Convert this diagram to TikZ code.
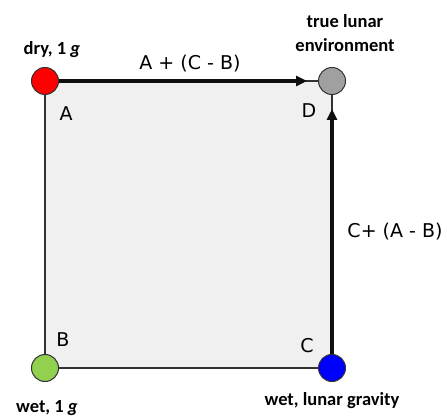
\documentclass[tikz,border=0pt]{standalone}
\usepackage{fontspec}
\setmainfont{Carlito}
\newfontfamily\labelfont{DejaVu Sans}
\usepackage{tikz}
\usetikzlibrary{arrows.meta, positioning, calc}
\definecolor{mydark}{RGB}{15,15,15}
\definecolor{myedge}{RGB}{50,50,50}
\definecolor{boxfill}{RGB}{240,240,240}
\definecolor{dotred}{RGB}{255,0,0}
\definecolor{dotgray}{RGB}{160,160,160}
\definecolor{dotgreen}{RGB}{146,208,80}
\definecolor{dotblue}{RGB}{0,0,255}
\tikzset{
  dot/.style={circle, draw=myedge, line width=1pt, minimum size=27pt, inner sep=0pt},
  edge/.style={line width=1.5pt, color=myedge},
  arrow/.style={-{Triangle[length=11pt, width=10pt]}, line width=3.4pt, color=mydark},
  corner/.style={font=\labelfont\fontsize{19}{19}\selectfont, color=black},
  arrowlabel/.style={font=\labelfont\fontsize{19}{19}\selectfont, color=black},
  caption/.style={font=\bfseries\fontsize{18.5}{24}\selectfont, align=center, color=black}
}

\begin{document}
\begin{tikzpicture}[x=1pt, y=-1pt]
  \useasboundingbox (0,0) rectangle (447,419);

  % Square
  \fill[boxfill] (45,81) rectangle (332,368);
  \draw[edge] (45,81) -- (45,368) -- (332,368) -- (332,81) -- cycle;

  % Corner dots
  \node[dot, fill=dotred] (A) at (45,81) {};
  \node[dot, fill=dotgray] (D) at (332,81) {};
  \node[dot, fill=dotgreen] (B) at (45,368) {};
  \node[dot, fill=dotblue] (C) at (332,368) {};

  % Thick arrows
  \coordinate (tipAD) at (307,81);
  \coordinate (tipCD) at (332,109);
  \draw[arrow] (A) -- (tipAD);
  \draw[arrow] (C) -- (tipCD);
  \node[arrowlabel] (lblAD) at (190,64) {A + (C - B)};
  \node[arrowlabel] (lblCD) at (395,232) {C+ (A - B)};

  % Corner letters
  \node[corner] at (66,114) {A};
  \node[corner] at (309,111) {D};
  \node[corner] at (63,340) {B};
  \node[corner] at (307,346) {C};

  % Captions
  \node[caption] at (52,50) {dry, 1 \textit{g}};
  \node[caption] at (345,33) {true lunar\\environment};
  \node[caption] at (47,408) {wet, 1 \textit{g}};
  \node[caption] at (332,401) {wet, lunar gravity};
\end{tikzpicture}
\end{document}
